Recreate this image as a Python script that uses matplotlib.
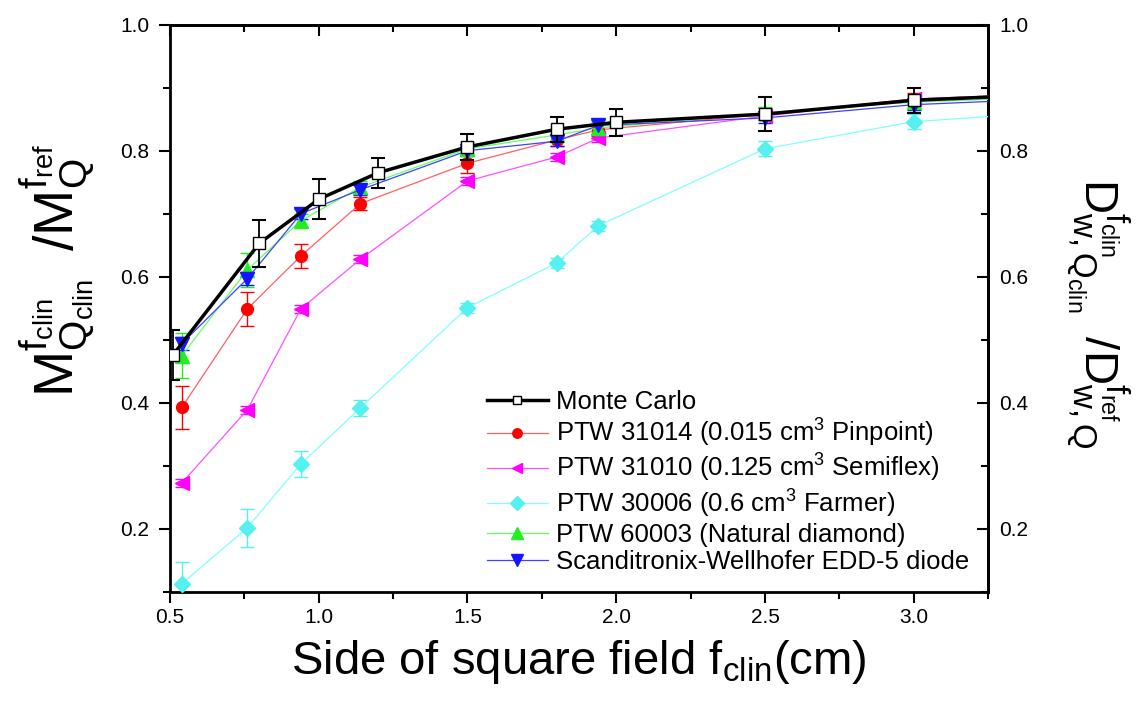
import matplotlib
matplotlib.use("Agg")
import matplotlib.pyplot as plt
from matplotlib.ticker import MultipleLocator

plt.rcParams['font.family'] = ['Liberation Sans', 'DejaVu Sans']
plt.rcParams['mathtext.fontset'] = 'custom'
plt.rcParams['mathtext.rm'] = 'Liberation Sans'
plt.rcParams['mathtext.it'] = 'Liberation Sans'
plt.rcParams['mathtext.bf'] = 'Liberation Sans:bold'

# ---------------- data ----------------
mc_x = [0.51, 0.80, 1.00, 1.20, 1.50, 1.80, 2.00, 2.50, 3.00, 4.00]
mc_y = [0.476, 0.653, 0.723, 0.765, 0.806, 0.834, 0.845, 0.858, 0.880, 0.900]
mc_err = [0.040, 0.037, 0.032, 0.024, 0.020, 0.020, 0.021, 0.027, 0.020, 0.0]

det_x = [0.54, 0.76, 0.94, 1.14, 1.50, 1.80, 1.94, 2.50, 3.00, 4.00]
pinpoint_y = [0.393, 0.549, 0.633, 0.716, 0.780, 0.817, 0.833, 0.858, 0.882, 0.900]
pinpoint_err = [0.034, 0.027, 0.019, 0.010, 0.015, 0.010, 0.010, 0.010, 0.010, 0.0]
semiflex_y = [0.273, 0.389, 0.549, 0.628, 0.752, 0.790, 0.820, 0.855, 0.882, 0.900]
semiflex_err = [0.006, 0.006, 0.006, 0.006, 0.006, 0.006, 0.006, 0.006, 0.006, 0.0]
farmer_y = [0.113, 0.202, 0.303, 0.392, 0.551, 0.622, 0.681, 0.803, 0.846, 0.878]
farmer_err = [0.034, 0.030, 0.020, 0.013, 0.008, 0.008, 0.008, 0.012, 0.012, 0.0]
diamond_y = [0.475, 0.611, 0.689, 0.742, 0.803, 0.825, 0.836, 0.860, 0.877, 0.895]
diamond_err = [0.035, 0.027, 0.010, 0.010, 0.010, 0.010, 0.010, 0.010, 0.010, 0.0]
diode_y = [0.494, 0.597, 0.700, 0.738, 0.800, 0.815, 0.840, 0.852, 0.873, 0.893]
diode_err = [0.010, 0.010, 0.008, 0.008, 0.008, 0.008, 0.008, 0.008, 0.008, 0.0]

labels = ["Monte Carlo",
          r"PTW 31014 (0.015 cm$^3$ Pinpoint)",
          r"PTW 31010 (0.125 cm$^3$ Semiflex)",
          r"PTW 30006 (0.6 cm$^3$ Farmer)",
          "PTW 60003 (Natural diamond)",
          "Scanditronix-Wellhofer EDD-5 diode"]

x_ticks = [0.5, 1.0, 1.5, 2.0, 2.5, 3.0]
y_ticks = [0.2, 0.4, 0.6, 0.8, 1.0]

# ---------------- figure ----------------
fig = plt.figure(figsize=(11.41, 7.03), dpi=100)
ax = fig.add_axes([0.149, 0.158, 0.717, 0.807])

series = [
    (det_x, pinpoint_y, pinpoint_err, '#FF0000', '#FF6060', 'o', 8.5),
    (det_x, semiflex_y, semiflex_err, '#FF00FF', '#FF50FF', '<', 9.5),
    (det_x, farmer_y, farmer_err, '#55F0F0', '#80FFFF', 'D', 8.5),
    (det_x, diamond_y, diamond_err, '#22EE22', '#60FF60', '^', 10),
    (det_x, diode_y, diode_err, '#1515FF', '#4040FF', 'v', 10),
]

handles = []
for xs, ys, es, mc, lc, mk, ms in series:
    ax.errorbar(xs, ys, yerr=es, fmt='none', ecolor=mc, elinewidth=1.0,
                capsize=5, capthick=1.0, zorder=3)
    h, = ax.plot(xs, ys, color=lc, lw=0.9, marker=mk, ms=ms,
                 markerfacecolor=mc, markeredgecolor=mc, zorder=4)
    handles.append(h)

ax.errorbar(mc_x, mc_y, yerr=mc_err, fmt='none', ecolor='black', elinewidth=1.3,
            capsize=5, capthick=1.5, zorder=5)
h_mc, = ax.plot(mc_x, mc_y, color='black', lw=2.5, marker='s', ms=8,
                markerfacecolor='white', markeredgecolor='black', markeredgewidth=1.0,
                zorder=6)
handles = [h_mc] + handles

ax.set_xlim(0.5, 3.25)
ax.set_ylim(0.1, 1.0)
ax.set_xticks(x_ticks)
ax.set_yticks(y_ticks)
ax.set_xticklabels([f"{v:.1f}" for v in x_ticks])
ax.set_yticklabels([f"{v:.1f}" for v in y_ticks])
ax.xaxis.set_minor_locator(MultipleLocator(0.25))
ax.yaxis.set_minor_locator(MultipleLocator(0.1))
ax.tick_params(axis='both', which='major', direction='out', length=8, width=1.5,
               labelsize=15, colors='black')
ax.tick_params(axis='y', which='major', pad=7)
ax.tick_params(axis='both', which='minor', direction='out', length=5, width=1.5)
for s in ax.spines.values():
    s.set_linewidth(2)

# top ticks (inward)
axt = ax.secondary_xaxis('top')
axt.set_xticks(x_ticks)
axt.xaxis.set_minor_locator(MultipleLocator(0.25))
axt.tick_params(which='major', direction='in', length=8, width=1.5, labeltop=False)
axt.tick_params(which='minor', direction='in', length=5, width=1.5)
axt.spines['top'].set_linewidth(2)

# right axis (inward ticks, labels)
axr = ax.secondary_yaxis('right')
axr.set_yticks(y_ticks)
axr.set_yticklabels([f"{v:.1f}" for v in y_ticks])
axr.yaxis.set_minor_locator(MultipleLocator(0.1))
axr.tick_params(which='major', direction='in', length=8, width=1.5, labelsize=15, pad=8)
axr.tick_params(which='minor', direction='in', length=5, width=1.5)
axr.spines['right'].set_linewidth(2)

ax.set_xlabel(r"Side of square field f$_{\mathrm{clin}}$(cm)", fontsize=34, labelpad=8)
fig.text(0.050, 0.615,
         r"$\mathrm{M^{f_{clin}}_{Q_{clin}}\;\;/M^{f_{ref}}_{Q}}$",
         rotation=90, fontsize=40, ha='center', va='center')
fig.text(0.962, 0.555,
         r"$\mathrm{D^{f_{clin}}_{w,Q_{clin}}\;\;/D^{f_{ref}}_{w,Q}}$",
         rotation=-90, fontsize=34, ha='center', va='center')

leg = ax.legend(handles, labels, loc='lower left', bbox_to_anchor=(0.365, 0.0),
                frameon=False, fontsize=18.5, handlelength=2.4, handletextpad=0.3,
                labelspacing=0.12, borderaxespad=0.3, markerscale=0.8)

fig.savefig("out.png", dpi=100)
